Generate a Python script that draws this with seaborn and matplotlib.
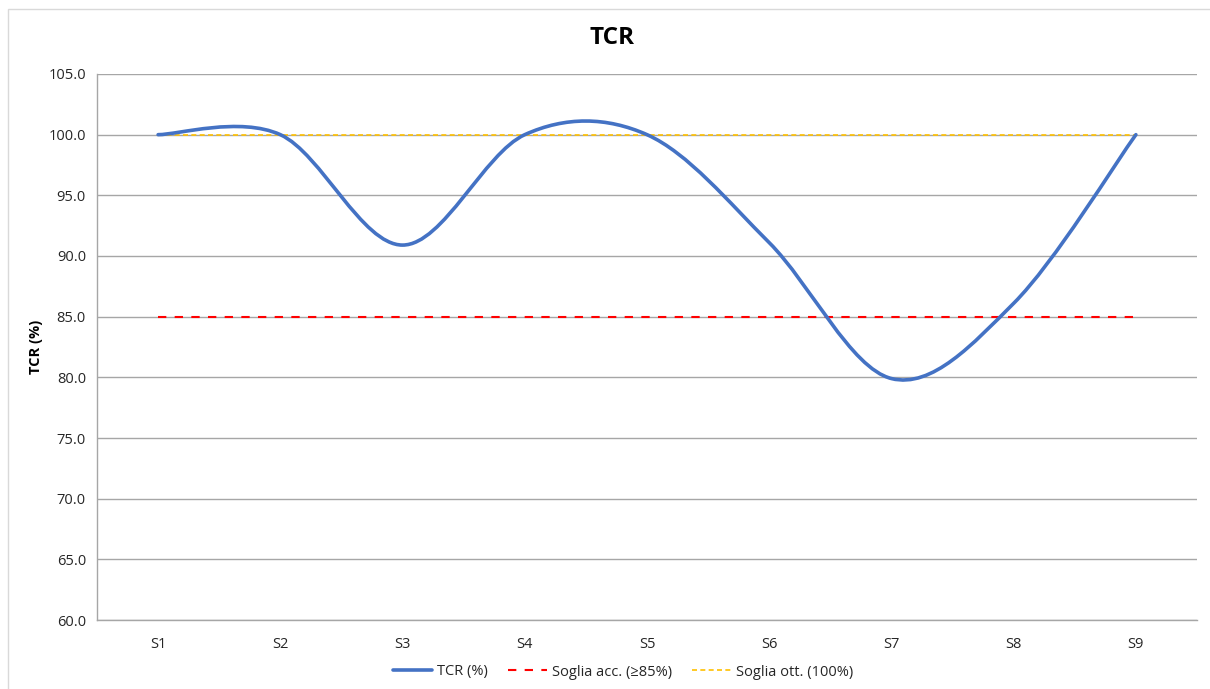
import numpy as np
import pandas as pd
import matplotlib
matplotlib.use("Agg")
import matplotlib.pyplot as plt
from matplotlib.path import Path
from matplotlib.patches import PathPatch, Rectangle
from matplotlib.lines import Line2D
import seaborn as sns

categories = ["S1", "S2", "S3", "S4", "S5", "S6", "S7", "S8", "S9"]
tcr = [100.0, 100.0, 90.9, 100.0, 100.0, 91.1, 79.9, 86.1, 100.0]
soglia_acc = [85.0] * 9
soglia_ott = [100.0] * 9
yticks = [60, 65, 70, 75, 80, 85, 90, 95, 100, 105]

sns.set_theme(style="white")
plt.rcParams["font.family"] = ["Open Sans", "DejaVu Sans"]

fig = plt.figure(figsize=(12.1, 6.89), dpi=100)
ax = fig.add_axes([97 / 1210, 1 - 620 / 689, 1100 / 1210, 546 / 689])

# chart border
fig.patches.append(Rectangle((8 / 1210, -0.1), 1.2, 1 - 9 / 689 + 0.1,
                             transform=fig.transFigure, fill=False,
                             edgecolor="#d9d9d9", linewidth=1.0))

df = pd.DataFrame({"x": np.arange(len(categories)), "acc": soglia_acc, "ott": soglia_ott})
sns.lineplot(data=df, x="x", y="acc", ax=ax, color="#ff0000", linewidth=1.5,
             dashes=False, linestyle=(0, (4, 4)), zorder=3)
sns.lineplot(data=df, x="x", y="ott", ax=ax, color="#ffc000", linewidth=1.2,
             dashes=False, linestyle=(0, (3, 2)), zorder=4)

# smoothed TCR line (Excel-style Bezier smoothing through data points)
xs = np.arange(len(tcr), dtype=float)
pts = np.column_stack([xs, np.array(tcr, dtype=float)])
verts = [tuple(pts[0])]
codes = [Path.MOVETO]
n = len(pts)
for i in range(n - 1):
    p0 = pts[i - 1] if i > 0 else pts[i]
    p1 = pts[i]
    p2 = pts[i + 1]
    p3 = pts[i + 2] if i + 2 < n else pts[i + 1]
    c1 = p1 + (p2 - p0) / 6.0
    c2 = p2 - (p3 - p1) / 6.0
    verts += [tuple(c1), tuple(c2), tuple(p2)]
    codes += [Path.CURVE4] * 3
ax.add_patch(PathPatch(Path(verts, codes), facecolor="none", edgecolor="#4472c4",
                       linewidth=2.6, zorder=5, capstyle="round", joinstyle="round"))

ax.set_xlim(-0.5, len(categories) - 0.5)
ax.set_ylim(60, 105)
ax.set_xticks(xs)
ax.set_xticklabels(categories)
ax.set_yticks(yticks)
ax.set_yticklabels([f"{v:.1f}" for v in yticks])
ax.tick_params(axis="both", length=0, labelsize=10.5, colors="#262626", pad=8)
ax.tick_params(axis="x", pad=12)
ax.yaxis.grid(True, color="#a6a6a6", linewidth=1.0)
ax.xaxis.grid(False)
for s in ["top", "right"]:
    ax.spines[s].set_visible(False)
for s in ["left", "bottom"]:
    ax.spines[s].set_color("#a6a6a6")
    ax.spines[s].set_linewidth(1.0)
ax.set_xlabel("")
ax.set_ylabel("TCR (%)", fontsize=10.5, fontweight="bold", color="black", labelpad=4)
fig.text(612 / 1210, 1 - 38 / 689, "TCR", ha="center", va="center", fontsize=17.5,
         fontweight="bold", color="black")

handles = [
    Line2D([0], [0], color="#4472c4", linewidth=2.6),
    Line2D([0], [0], color="#ff0000", linewidth=1.5, linestyle=(0, (4, 4))),
    Line2D([0], [0], color="#ffc000", linewidth=1.2, linestyle=(0, (3, 2))),
]
labels = ["TCR (%)", "Soglia acc. (≥85%)", "Soglia ott. (100%)"]
fig.legend(handles, labels, loc="center", bbox_to_anchor=(623 / 1210, 1 - 672 / 689),
           ncol=3, frameon=False, fontsize=10.5, handlelength=2.7,
           columnspacing=1.4, handletextpad=0.3)

fig.savefig("out.png", dpi=100)
